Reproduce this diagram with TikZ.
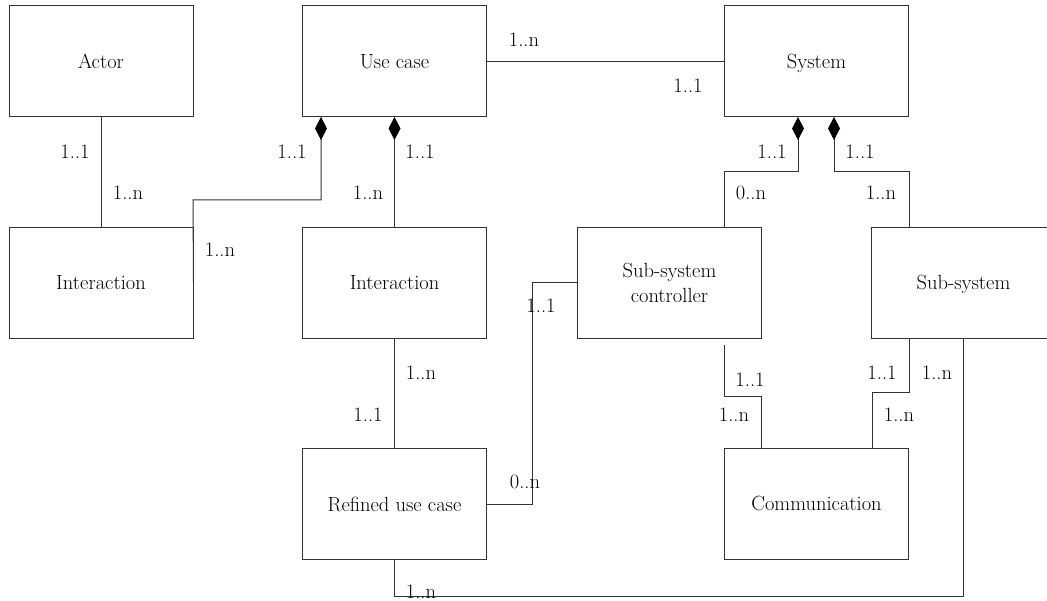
\documentclass[tikz,border=0pt]{standalone}
\usetikzlibrary{arrows.meta}
\begin{document}
\begin{tikzpicture}[x=1pt,y=-1pt,
  font=\fontsize{20.5}{25}\selectfont,
  entity/.style={draw=black!80,line width=1pt,fill=white,minimum width=184pt,minimum height=111pt,inner sep=0pt,align=center},
  oneline/.style={entity,text height=14pt,text depth=0pt},
  link/.style={draw=black!80,line width=1pt},
  comp/.style={link,{Diamond[length=23pt,width=12pt,black]}-},
  mult/.style={inner sep=0pt,anchor=center}]
\clip (0,0) rectangle (1047,601);
\fill[white] (0,0) rectangle (1047,601);

% classes
\node[oneline] (actor) at (101,61.5) {Actor};
\node[oneline] (usecase) at (394.5,61.5) {Use case};
\node[oneline] (system) at (816.5,61.5) {System};
\node[oneline] (inter1) at (101,283) {Interaction};
\node[oneline] (inter2) at (394.5,283) {Interaction};
\node[entity] (ctrl) at (669.5,283) {Sub-system\\controller};
\node[oneline] (subsys) at (963.5,283) {Sub-system};
\node[oneline] (refined) at (394.5,504) {Refined use case};
\node[oneline] (comm) at (816.5,503.5) {Communication};

% attachment points
\coordinate (ucA) at (321,117);
\coordinate (ucB) at (394.5,117);
\coordinate (sysA) at (798,117);
\coordinate (sysB) at (834,117);
\coordinate (ctrlTop) at (724,228);
\coordinate (subTop) at (909,228);
\coordinate (ctrlBot) at (724,345);
\coordinate (commA) at (761,448);
\coordinate (subBotA) at (909,338);
\coordinate (commB) at (872,448);
\coordinate (subBotB) at (963.5,338);

% associations
\draw[link] (actor.south) -- (inter1.north);
\draw[comp] (ucA) -- (321,200) -- (193,200) -- (inter1.east);
\draw[comp] (ucB) -- (inter2.north);
\draw[link] (usecase.east) -- (system.west);
\draw[comp] (sysA) -- (798,172) -- (724,172) -- (ctrlTop);
\draw[comp] (sysB) -- (834,172) -- (909,172) -- (subTop);
\draw[link] (inter2.south) -- (refined.north);
\draw[link] (ctrl.west) -- (532,283) -- (532,504) -- (refined.east);
\draw[link] (ctrlBot) -- (724,397) -- (761,397) -- (commA);
\draw[link] (subBotA) -- (909,393) -- (872,393) -- (commB);
\draw[link] (subBotB) -- (963.5,596) -- (394.5,596) -- (refined.south);

% multiplicities
\node[mult] at (75,152) {1..1};
\node[mult] at (128,193) {1..n};
\node[mult] at (292,152) {1..1};
\node[mult] at (420,152) {1..1};
\node[mult] at (368,193) {1..n};
\node[mult] at (220,250) {1..n};
\node[mult] at (524,40) {1..n};
\node[mult] at (688,86) {1..1};
\node[mult] at (772,152) {1..1};
\node[mult] at (860,152) {1..1};
\node[mult] at (751,193) {0..n};
\node[mult] at (881,193) {1..n};
\node[mult] at (421,373) {1..n};
\node[mult] at (368,415) {1..1};
\node[mult] at (541,306) {1..1};
\node[mult] at (525,482) {0..n};
\node[mult] at (421,592) {1..n};
\node[mult] at (750,380) {1..1};
\node[mult] at (734,415) {1..n};
\node[mult] at (882,373) {1..1};
\node[mult] at (899,415) {1..n};
\node[mult] at (937,373) {1..n};
\end{tikzpicture}
\end{document}
